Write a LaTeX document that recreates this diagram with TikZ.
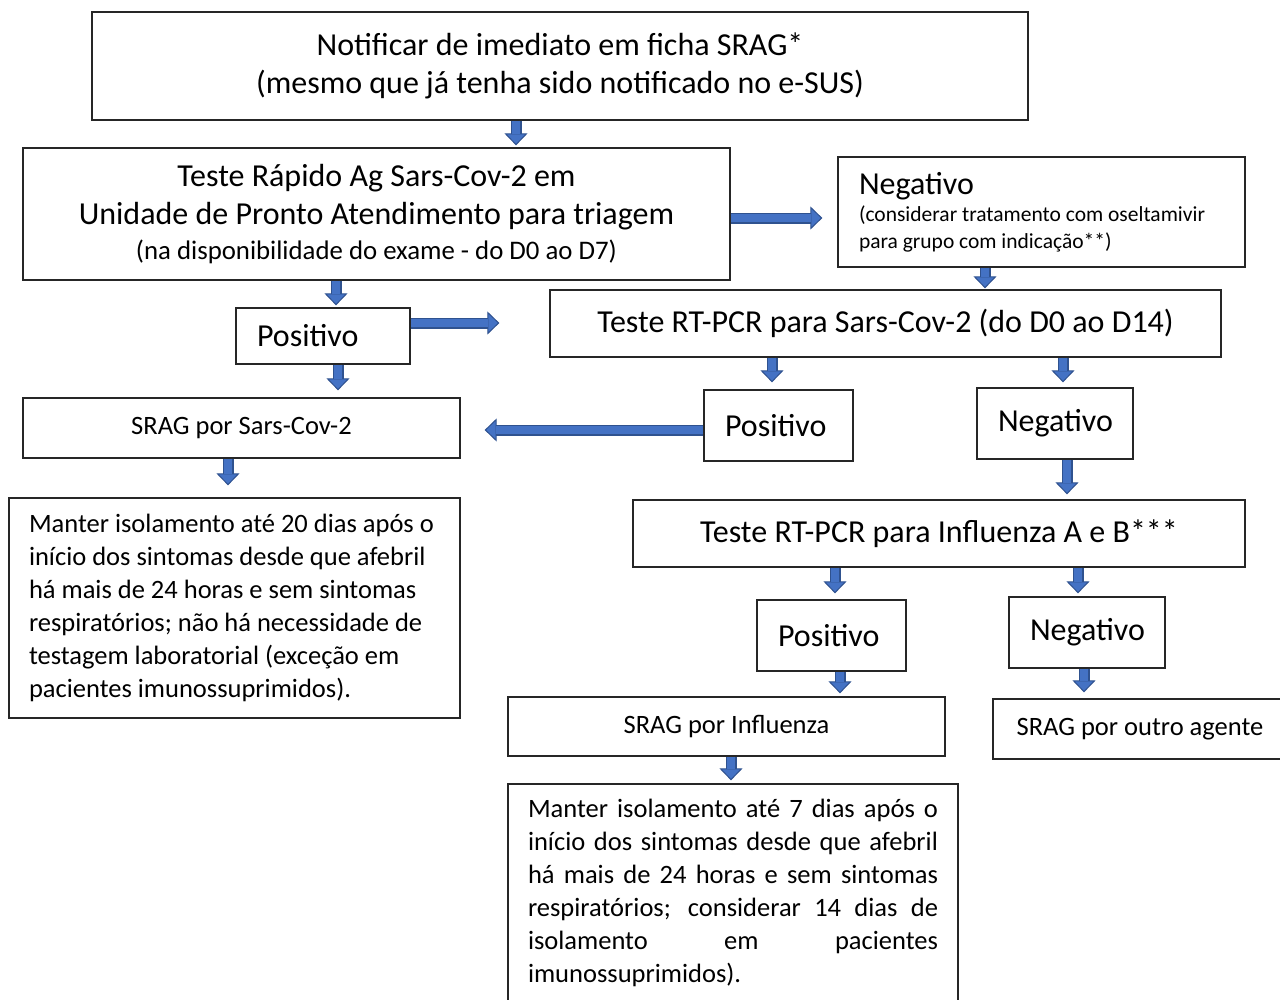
\documentclass[tikz,border=0pt]{standalone}
\usepackage{fontspec}
\setmainfont{Carlito}
\usetikzlibrary{arrows.meta}
\definecolor{ablue}{HTML}{4472C4}
\definecolor{adark}{HTML}{2F528F}
\tikzset{
  caixa/.style={draw=black!85,line width=1.3pt,inner sep=0pt,align=center,font=\fontsize{32}{38.5}\selectfont},
  caixaE/.style={caixa,align=flush left,inner xsep=21pt},
  fmed/.style={font=\fontsize{26.5}{33}\selectfont},
  blkout/.style={line width=11pt,adark,-{Triangle[length=12pt,width=23pt,fill=ablue,color=adark,line width=1pt]}},
  blkin/.style={line width=8.5pt,ablue},
}
\newcommand{\blkarrow}[3][3pt]{% #1 = gap before target, #2 = from, #3 = to
  \draw[blkout,shorten >=#1] #2 -- #3;
  \draw[blkin,shorten >=#1+11pt] #2 -- #3;}

\begin{document}
\begin{tikzpicture}[x=1pt,y=-1pt]
\useasboundingbox (0,0) rectangle (1280,999);
% first notification and rapid test
\node[caixa,minimum width=936pt,minimum height=108pt] (notif) at (560,66)
  {Notificar de imediato em ficha SRAG*\\(mesmo que já tenha sido notificado no e-SUS)};
\node[caixa,minimum width=707pt,minimum height=132pt] (rapido) at (376.5,214)
  {Teste Rápido Ag Sars-Cov-2 em\\Unidade de Pronto Atendimento para triagem\\[-3.5pt]
   {\fontsize{26.8}{35}\selectfont(na disponibilidade do exame - do D0 ao D7)}};
\node[caixaE,text width=365pt,minimum height=110pt] (nega) at (1041.5,212)
  {Negativo\par\fontsize{21.5}{27}\selectfont(considerar tratamento com oseltamivir\\para grupo com indicação**)\par};
\node[caixaE,text width=132pt,minimum height=56pt] (posa) at (323,336) {Positivo};
% RT-PCR for Sars-Cov-2
\node[caixa,minimum width=671pt,minimum height=67pt] (rtsars) at (885.5,323.5)
  {Teste RT-PCR para Sars-Cov-2 (do D0 ao D14)};
\node[caixa,fmed,minimum width=437pt,minimum height=60pt] (srsars) at (241.5,428) {SRAG por Sars-Cov-2};
\node[caixaE,text width=107pt,minimum height=71pt] (posb) at (778.5,425.5) {Positivo};
\node[caixaE,text width=114pt,minimum height=71pt] (negb) at (1055,423.5) {Negativo};
\node[caixaE,fmed,text width=411pt,inner xsep=20pt,minimum height=220pt] (m20) at (234.5,608)
  {Manter isolamento até 20 dias após o\\início dos sintomas desde que afebril\\há mais de 24 horas e sem sintomas\\respiratórios; não há necessidade de\\testagem laboratorial (exceção em\\pacientes imunossuprimidos).};
% RT-PCR for Influenza
\node[caixa,minimum width=612pt,minimum height=67pt] (rti) at (939,533.5) {Teste RT-PCR para Influenza A e B***};
\node[caixaE,text width=107pt,minimum height=71pt] (posc) at (831.5,635.5) {Positivo};
\node[caixaE,text width=114pt,minimum height=71pt] (negc) at (1087,632.5) {Negativo};
\node[caixa,fmed,minimum width=437pt,minimum height=59pt] (sri) at (726.5,726.5) {SRAG por Influenza};
\node[caixa,fmed,minimum width=294pt,minimum height=60pt] (sro) at (1140,729) {SRAG por outro agente};
\node[caixa,fmed,text width=410pt,align=justify,inner xsep=20pt,minimum height=218pt] (m7) at (733,893)
  {Manter isolamento até 7 dias após o\linebreak início dos sintomas desde que afebril\linebreak há mais de 24 horas e sem sintomas\linebreak respiratórios; considerar 14 dias de\linebreak isolamento em pacientes\linebreak imunossuprimidos).};
% block arrows
\blkarrow[2pt]{(notif.south -| 516,0)}{(rapido.north -| 516,0)}
\blkarrow[15pt]{(rapido.east |- 0,218)}{(nega.west |- 0,218)}
\blkarrow[2pt]{(rapido.south -| 336,0)}{(posa.north -| 336,0)}
\blkarrow[50pt]{(posa.east |- 0,323)}{(rtsars.west |- 0,323)}
\blkarrow[1pt]{(nega.south -| 985,0)}{(rtsars.north -| 985,0)}
\blkarrow[7pt]{(posa.south -| 338,0)}{(srsars.north -| 338,0)}
\blkarrow[7pt]{(rtsars.south -| 772,0)}{(posb.north -| 772,0)}
\blkarrow[5pt]{(rtsars.south -| 1063,0)}{(negb.north -| 1063,0)}
\blkarrow[24pt]{(posb.west |- 0,430)}{(srsars.east |- 0,430)}
\blkarrow[12pt]{(srsars.south -| 228,0)}{(m20.north -| 228,0)}
\blkarrow[5pt]{(negb.south -| 1067,0)}{(rti.north -| 1067,0)}
\blkarrow[6pt]{(rti.south -| 835,0)}{(posc.north -| 835,0)}
\blkarrow[3pt]{(rti.south -| 1078,0)}{(negc.north -| 1078,0)}
\blkarrow[3pt]{(posc.south -| 840,0)}{(sri.north -| 840,0)}
\blkarrow[6pt]{(negc.south -| 1084,0)}{(sro.north -| 1084,0)}
\blkarrow[3pt]{(sri.south -| 731,0)}{(m7.north -| 731,0)}
\end{tikzpicture}
\end{document}
